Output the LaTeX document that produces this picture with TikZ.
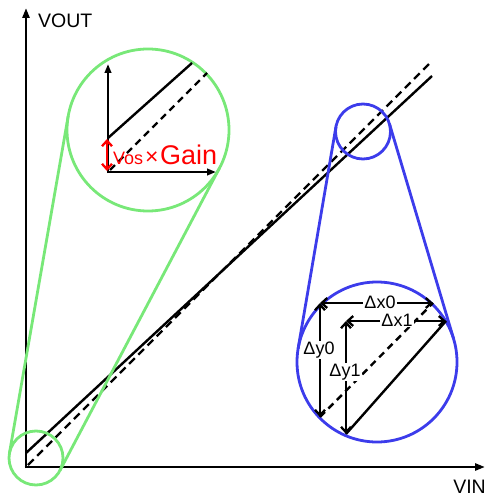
\documentclass[tikz,border=0pt]{standalone}
\usepackage{fontspec}
\setmainfont{Liberation Sans}
\usetikzlibrary{arrows.meta,calc}
\definecolor{zgreen}{RGB}{120,232,120}
\definecolor{zblue}{RGB}{60,60,235}
\begin{document}
\begin{tikzpicture}[x=1pt,y=-1pt,
  mainaxis/.style={line width=2.8pt,-{Triangle[length=10pt,width=7pt]}},
  inaxis/.style={line width=2.3pt,-{Triangle[length=9pt,width=6.5pt]}},
  curve/.style={line width=2.4pt},
  dashcurve/.style={line width=2.4pt,dash pattern=on 8pt off 5pt},
  gzoom/.style={draw=zgreen,line width=2.8pt},
  bzoom/.style={draw=zblue,line width=2.8pt},
  dim/.style={line width=2.3pt,{Straight Barb[length=5.5pt,width=10pt]}-{Straight Barb[length=5.5pt,width=10pt]}},
  dimlabel/.style={fill=white,inner sep=1pt,font=\fontsize{18}{18}\selectfont},
  axlabel/.style={inner sep=0pt,font=\fontsize{19.5}{19.5}\selectfont}]
\useasboundingbox (0,0) rectangle (486,497);

% main axes
\coordinate (O) at (26,467);
\coordinate (Ytop) at (26,8);
\coordinate (Xend) at (485,467);
\draw[mainaxis] ($(O)+(0,1.4)$) -- (Ytop);
\draw[mainaxis] ($(O)+(-1.4,0)$) -- (Xend);
\node[axlabel,anchor=base west] (vout) at (38,28) {VOUT};
\node[axlabel,anchor=base east] (vin) at (486,493) {VIN};

% main lines
\coordinate (s0) at (26,453);
\coordinate (s1) at (432,76);
\coordinate (d0) at (28,465);
\coordinate (d1) at (432,61);
\draw[curve] (s0) -- (s1);
\draw[dashcurve] (d0) -- (d1);

% green zoom
\coordinate (gc1) at (36,458);
\coordinate (gc2) at (148,130);
\draw[gzoom] (gc1) circle[radius=27];
\draw[gzoom] (gc2) circle[radius=81];
\draw[gzoom] (59.9,470.6) -- (219.6,167.8);
\draw[gzoom] (9.4,453.4) -- (68.2,116.1);

% green inset content
\coordinate (io) at (108,172);
\draw[inaxis] ($(io)+(0,1.1)$) -- (108,64);
\draw[inaxis] ($(io)+(-1.1,0)$) -- (216,172);
\coordinate (is0) at (108,138);
\coordinate (is1) at (192,63);
\coordinate (id0) at (110,170);
\coordinate (id1) at (207,73);
\draw[curve] (is0) -- (is1);
\draw[line width=2.4pt,dash pattern=on 7pt off 5pt] (id0) -- (id1);
\draw[red,line width=2.3pt,{Straight Barb[length=5.5pt,width=10pt]}-{Straight Barb[length=5.5pt,width=10pt]}] (107,139) -- (107,171);
\node[red,inner sep=0pt,anchor=base west] (vos) at (113,164.5)
  {\fontsize{18}{18}\selectfont Vos\kern2pt\fontsize{23}{23}\selectfont ×\kern1.5pt\fontsize{27}{27}\selectfont Gain};

% blue zoom
\coordinate (bc1) at (363,131.5);
\coordinate (bc2) at (377,362);
\draw[bzoom] (bc1) circle[radius=27.5];
\draw[bzoom] (bc2) circle[radius=80];
\draw[bzoom] (389.4,123.6) -- (453.7,339.1);
\draw[bzoom] (335.9,126.9) -- (298.1,348.6);

% blue inset content
\coordinate (bs0) at (346,434);
\coordinate (bs1) at (446,321);
\coordinate (bd0) at (320,417);
\coordinate (bd1) at (433,303);
\draw[curve] (bs0) -- (bs1);
\draw[line width=2.4pt,dash pattern=on 7pt off 5pt] (bd0) -- (bd1);
\coordinate (x0a) at (320,303);
\coordinate (x1a) at (346,321);
\draw[dim] (x0a) -- (bd1);
\draw[dim] (x1a) -- (bs1);
\draw[dim] (x0a) -- (bd0);
\draw[dim] (x1a) -- (bs0);
\node[dimlabel] (dx0) at (380,302) {Δx0};
\node[dimlabel] (dx1) at (397,320) {Δx1};
\node[dimlabel] (dy0) at (319,350) {Δy0};
\node[dimlabel] (dy1) at (345,372) {Δy1};
\end{tikzpicture}
\end{document}
